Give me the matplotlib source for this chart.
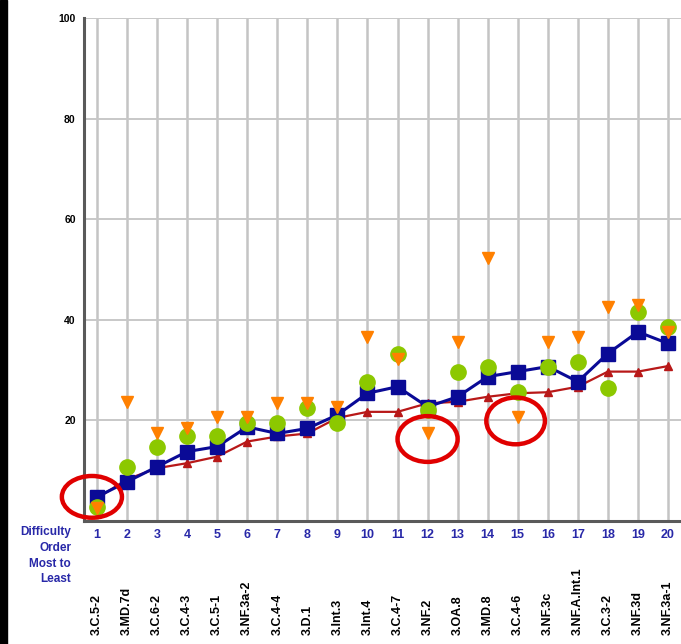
import matplotlib.pyplot as plt
from matplotlib.patches import Ellipse, Rectangle

plt.rcParams['font.family'] = ['Liberation Sans', 'DejaVu Sans']

order = list(range(1, 21))
codes = ["3.C.5-2", "3.MD.7d", "3.C.6-2", "3.C.4-3", "3.C.5-1", "3.NF.3a-2",
         "3.C.4-4", "3.D.1", "3.Int.3", "3.Int.4", "3.C.4-7", "3.NF.2",
         "3.OA.8", "3.MD.8", "3.C.4-6", "3.NF.3c", "3.NF.A.Int.1", "3.C.3-2",
         "3.NF.3d", "3.NF.3a-1"]

blue_sq = [4.8, 7.8, 10.8, 13.8, 14.8, 18.7, 17.4, 18.4, 21.1, 25.4,
           26.7, 22.7, 24.7, 28.7, 29.7, 30.7, 27.7, 33.3, 37.6, 35.3]
red_tri = [4.5, 8.3, 10.5, 11.5, 12.8, 15.8, 16.8, 17.4, 20.5, 21.7,
           21.7, 23.4, 23.7, 24.7, 25.4, 25.6, 26.7, 29.7, 29.7, 30.8]
green_dot = [2.8, 10.8, 14.8, 16.8, 16.8, 19.4, 19.4, 22.4, 19.4, 27.7,
             33.3, 22.1, 29.7, 30.7, 25.7, 30.7, 31.7, 26.4, 41.6, 38.6]
orange_tri = [2.5, 23.7, 17.4, 18.4, 20.7, 20.7, 23.4, 23.4, 22.7, 36.6,
              32.3, 17.4, 35.6, 52.2, 20.7, 35.6, 36.6, 42.6, 42.9, 37.6]

# circled items: (order, series values, x shift, y shift, width, height)
circled = [(1, blue_sq, -0.17, 0.0, 2.0, 8.3),
           (12, orange_tri, 0.0, -1.1, 2.0, 9.1),
           (15, orange_tri, -0.07, -0.8, 1.95, 9.3)]

fig = plt.figure(figsize=(6.81, 6.44), dpi=100)
ax = fig.add_axes([84 / 681, 123 / 644, 602 / 681, 503 / 644])
ax.set_xlim(0.567, 20.6)
ax.set_ylim(0, 100)

for x in order:
    ax.axvline(x, color="#c4c4c4", lw=1.8, zorder=0)
for y in [20, 40, 60, 80, 100]:
    ax.axhline(y, color="#c8c8c8", lw=1.4, zorder=0)

ax.plot(order, red_tri, color="#b81818", lw=1.6, marker="^", ms=6, zorder=2)
ax.plot(order, blue_sq, color="#0a0a96", lw=2.2, marker="s", ms=10, zorder=3)
ax.plot(order, green_dot, ls="none", marker="o", color="#8cc800", ms=11, zorder=4)
ax.plot(order, orange_tri, ls="none", marker="v", color="#ff8000", ms=8.5, zorder=5)

for idx, vals, dx, dy, w, h in circled:
    ax.add_patch(Ellipse((idx + dx, vals[idx - 1] + dy), w, h, fill=False,
                         edgecolor="#e00000", lw=3.2, zorder=6, clip_on=False))

for side in ["top", "right"]:
    ax.spines[side].set_visible(False)
for side in ["left", "bottom"]:
    ax.spines[side].set_color("#5a5a5a")
    ax.spines[side].set_linewidth(2.2)

ax.set_yticks([20, 40, 60, 80, 100])
ax.set_yticklabels(["20", "40", "60", "80", "100"], fontsize=7.5, fontweight="bold")
ax.set_xticks(order)
ax.set_xticklabels([str(i) for i in order], fontsize=9, fontweight="bold",
                   color="#2828a8")
ax.tick_params(axis="both", length=0)
ax.tick_params(axis="y", pad=6)
ax.tick_params(axis="x", pad=6)

fig.text(71 / 681, 1 - 526 / 644, "Difficulty\nOrder\nMost to\nLeast",
         ha="right", va="top", fontsize=8.5, fontweight="bold", color="#2828a8",
         linespacing=1.42)

for x, code in zip(order, codes):
    ax.text(x, -22.6, code, rotation=90, ha="center", va="bottom",
            fontsize=9, fontweight="bold", clip_on=False)

fig.add_artist(Rectangle((0, 0), 7 / 681, 1, transform=fig.transFigure,
                         color="black"))

plt.savefig("out.png", dpi=100)
